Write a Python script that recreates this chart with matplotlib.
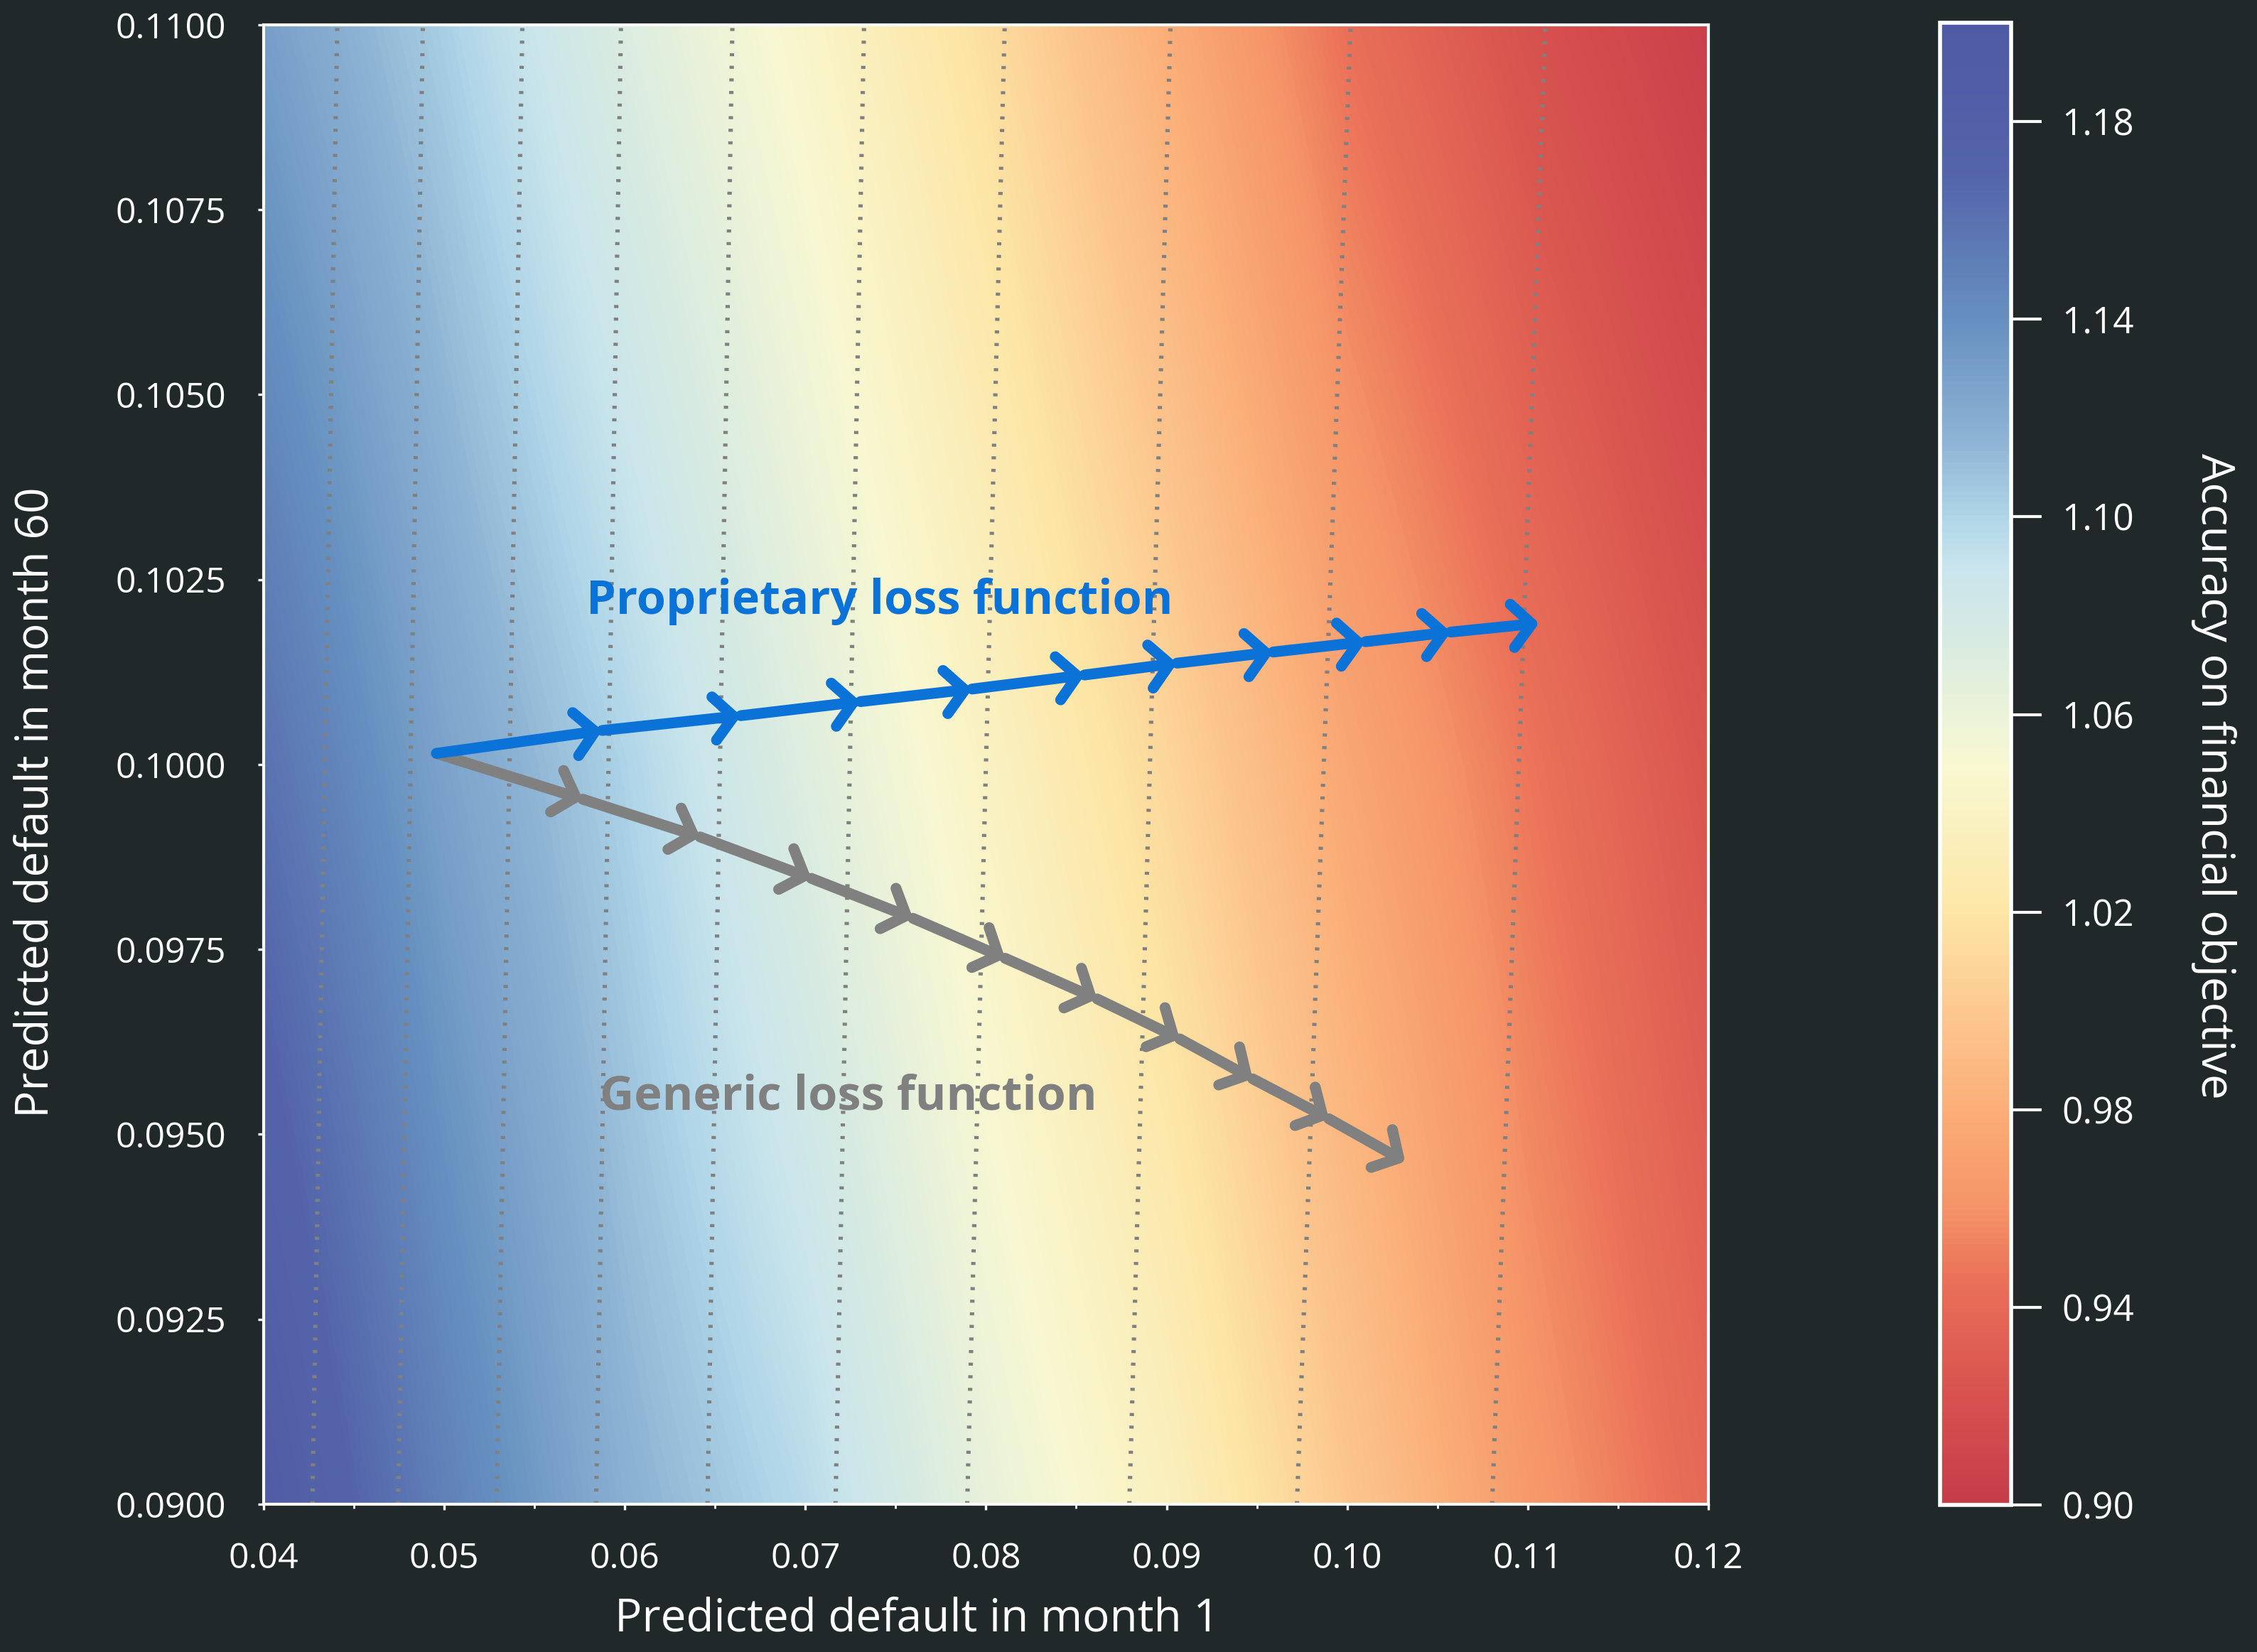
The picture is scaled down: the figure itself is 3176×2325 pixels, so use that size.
import numpy as np
import matplotlib
matplotlib.use("Agg")
import matplotlib.pyplot as plt
from matplotlib.colors import LinearSegmentedColormap, Normalize

# accuracy surface
# columns: predicted default in month 1, rows: predicted default in month 60
month1_grid = [0.04, 0.05, 0.06, 0.07, 0.08, 0.09, 0.10, 0.11, 0.12]
month60_grid = [0.09, 0.10, 0.11]
accuracy_at_0900 = [1.190, 1.150, 1.118, 1.097, 1.063, 1.037, 1.000, 0.965, 0.940]
accuracy_at_1000 = [1.160, 1.127, 1.101, 1.070, 1.040, 1.010, 0.975, 0.948, 0.925]
accuracy_at_1100 = [1.130, 1.103, 1.072, 1.045, 1.015, 0.980, 0.945, 0.922, 0.905]

# dotted iso-lines: where each one meets the bottom and the top edge
iso_x_bottom = [0.04270, 0.04745, 0.05290, 0.05841, 0.06458, 0.07167, 0.07896, 0.08794, 0.09722, 0.10803]
iso_x_top = [0.04408, 0.04882, 0.05433, 0.05979, 0.06596, 0.07325, 0.08104, 0.09022, 0.10019, 0.11098]

# optimisation paths
prop_x = [0.04957, 0.05875, 0.06643, 0.07305, 0.07923, 0.08546, 0.09058, 0.09590, 0.10102, 0.10574, 0.11063]
prop_y = [0.10015, 0.10046, 0.10066, 0.10085, 0.10102, 0.10121, 0.10137, 0.10152, 0.10166, 0.10179, 0.10191]
gen_x = [0.04957, 0.05767, 0.06417, 0.07033, 0.07596, 0.08106, 0.08616, 0.09073, 0.09477, 0.09899, 0.10321]
gen_y = [0.10015, 0.09953, 0.09902, 0.09846, 0.09792, 0.09738, 0.09683, 0.09629, 0.09575, 0.09521, 0.09463]

x_ticks = [0.04, 0.05, 0.06, 0.07, 0.08, 0.09, 0.10, 0.11, 0.12]
x_ticklabels = ["0.04", "0.05", "0.06", "0.07", "0.08", "0.09", "0.10", "0.11", "0.12"]
y_ticks = [0.09, 0.0925, 0.095, 0.0975, 0.10, 0.1025, 0.105, 0.1075, 0.11]
y_ticklabels = ["0.0900", "0.0925", "0.0950", "0.0975", "0.1000", "0.1025", "0.1050", "0.1075", "0.1100"]
cbar_ticks = [0.90, 0.94, 0.98, 1.02, 1.06, 1.10, 1.14, 1.18]
cbar_ticklabels = ["0.90", "0.94", "0.98", "1.02", "1.06", "1.10", "1.14", "1.18"]

bg = "#20282a"
blue = "#0b72d8"
grey = "#808080"

plt.rcParams['font.family'] = ['Open Sans', 'DejaVu Sans']

vmin, vmax = 0.90, 1.20
cmap_nodes = [
    (0.900, "#c63d4a"), (0.925, "#da5650"), (0.945, "#ea7058"), (0.960, "#f59468"),
    (0.980, "#fbae78"), (1.000, "#fcc890"), (1.020, "#fde6a6"), (1.050, "#f8f8d2"),
    (1.075, "#d8ebe2"), (1.090, "#c8e4ec"), (1.100, "#b0d6e8"), (1.115, "#8fb5d5"),
    (1.140, "#6690c0"), (1.170, "#5464aa"), (1.200, "#4f5aa5"),
]
cmap = LinearSegmentedColormap.from_list(
    "acc", [((v - vmin) / (vmax - vmin), c) for v, c in cmap_nodes])

fig = plt.figure(figsize=(15.88, 11.625), dpi=200, facecolor=bg)
ax = fig.add_axes([0.1168, 0.0895, 0.6401, 0.8955])
cax = fig.add_axes([0.8596, 0.0890, 0.0315, 0.8972])

Z = np.array([accuracy_at_0900, accuracy_at_1000, accuracy_at_1100])
hx = (month1_grid[1] - month1_grid[0]) / 2
hy = (month60_grid[1] - month60_grid[0]) / 2
im = ax.imshow(Z, origin="lower", aspect="auto", cmap=cmap,
               norm=Normalize(vmin, vmax), interpolation="bilinear",
               interpolation_stage="data",
               extent=[month1_grid[0] - hx, month1_grid[-1] + hx,
                       month60_grid[0] - hy, month60_grid[-1] + hy])

for xb, xt in zip(iso_x_bottom, iso_x_top):
    ax.plot([xb, xt], [month60_grid[0], month60_grid[-1]], color=grey,
            lw=2.2, dashes=(0.7, 2.2))


def draw_path(xs, ys, color):
    for i in range(len(xs) - 1):
        ax.annotate("", xy=(xs[i + 1], ys[i + 1]), xytext=(xs[i], ys[i]),
                    arrowprops=dict(arrowstyle="->,head_length=0.45,head_width=0.5",
                                    color=color, lw=5.5, shrinkA=0, shrinkB=0,
                                    mutation_scale=22, capstyle="round"))


draw_path(gen_x, gen_y, grey)
draw_path(prop_x, prop_y, blue)

ax.text(0.0741, 0.1022, "Proprietary loss function", color=blue, fontsize=24,
        fontweight="bold", ha="center", va="center")
ax.text(0.0724, 0.0955, "Generic loss function", color=grey, fontsize=24,
        fontweight="bold", ha="center", va="center")

ax.set_xlim(0.04, 0.12)
ax.set_ylim(0.09, 0.11)
ax.set_xticks(x_ticks)
ax.set_xticklabels(x_ticklabels)
ax.set_xticks([0.045, 0.055, 0.065, 0.075, 0.085, 0.095, 0.105, 0.115], minor=True)
ax.set_yticks(y_ticks)
ax.set_yticklabels(y_ticklabels)
ax.tick_params(which="major", colors="white", labelsize=18, length=3, width=1.2, pad=16)
ax.tick_params(axis="x", which="minor", colors="white", length=2, width=1)
for s in ax.spines.values():
    s.set_color("white")
    s.set_linewidth(1.5)

fig.text(1290 / 3176, 1 - 2279 / 2325, "Predicted default in month 1",
         color="white", fontsize=23, ha="center", va="center")
fig.text(51 / 3176, 1 - 1129 / 2325, "Predicted default in month 60",
         color="white", fontsize=23, ha="center", va="center", rotation=90)

cb = fig.colorbar(im, cax=cax, ticks=cbar_ticks)
cb.set_ticklabels(cbar_ticklabels)
cb.outline.set_edgecolor("white")
cb.outline.set_linewidth(2)
cax.tick_params(colors="white", labelsize=18.5, length=15.5, width=1.5, pad=10)
fig.text(3115 / 3176, 1 - 1092 / 2325, "Accuracy on financial objective",
         color="white", fontsize=23, ha="center", va="center", rotation=270)

fig.savefig("out.png", dpi=200, facecolor=bg)
